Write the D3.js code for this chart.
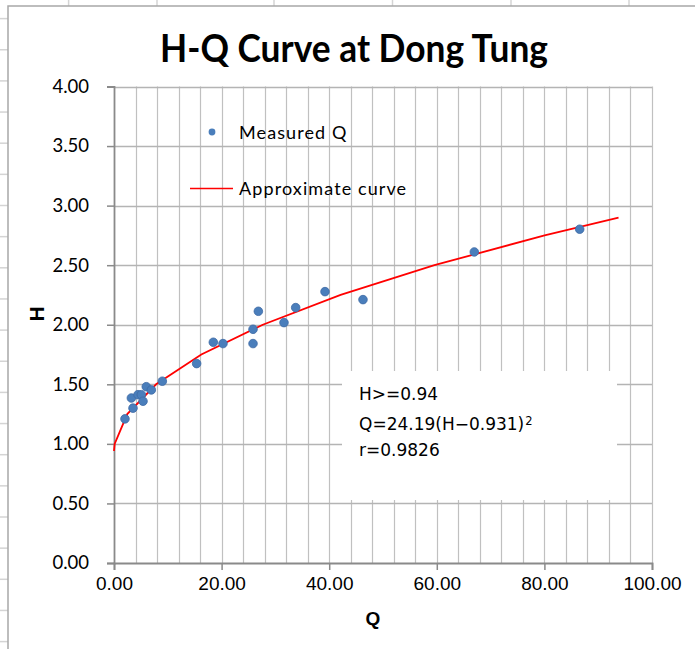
<!DOCTYPE html>
<html>
<head>
<meta charset="utf-8">
<script src="https://cdn.jsdelivr.net/npm/d3@7"></script>
<style>
  html, body { margin: 0; padding: 0; background: #fff; }
  svg { display: block; }
</style>
</head>
<body>
<svg id="chart" width="695" height="649"></svg>
<script>
// ---------------- data ----------------
const chartTitle = "H-Q Curve at Dong Tung";
const xAxisTitle = "Q";
const yAxisTitle = "H";

// Measured discharge Q and stage H
const measuredQ = [2.04, 3.53, 3.23, 4.46, 5.08, 5.39, 6.00, 6.94, 8.98, 15.36, 18.46, 20.26, 25.84, 25.84, 26.83, 31.60, 33.77, 39.22, 46.28, 66.97, 86.56];
const measuredH = [1.21, 1.30, 1.385, 1.413, 1.413, 1.358, 1.48, 1.453, 1.526, 1.674, 1.853, 1.842, 1.962, 1.842, 2.113, 2.018, 2.144, 2.278, 2.211, 2.611, 2.802];

// Approximate curve vertices (Q = 24.19 (H - 0.931)^2)
const curveQ = [0.00, 0.12, 2.46, 7.83, 16.23, 27.65, 42.12, 59.56, 80.04, 93.78];
const curveH = [0.94, 1.00, 1.25, 1.50, 1.75, 2.00, 2.25, 2.50, 2.75, 2.90];

const xTickValues = [0, 20, 40, 60, 80, 100];
const xGridValues = [4, 8, 12, 16, 20, 24, 28, 32, 36, 40, 44, 48, 52, 56, 60, 64, 68, 72, 76, 80, 84, 88, 92, 96, 100];
const yTickValues = [0, 0.5, 1.0, 1.5, 2.0, 2.5, 3.0, 3.5, 4.0];

const legendLabels = ["Measured Q", "Approximate curve"];
const noteLines = ["H>=0.94", "Q=24.19(H\u22120.931)", "r=0.9826"];
const noteSup = "2";

// ---------------- drawing ----------------
const svg = d3.select("#chart");
const W = 695, H = 649;

// spreadsheet cell lines outside the chart object (decoration)
const cellColsX = [68.6, 157, 274, 392.5, 511, 629];
const deco = svg.append("g");
cellColsX.forEach(x => deco.append("line").attr("x1", x).attr("x2", x).attr("y1", 0).attr("y2", 6)
  .attr("stroke", "#d4d4d4").attr("stroke-width", 1.5));
d3.range(0, 21).forEach(k => {
  const y = 18.6 + 31.15 * k;
  deco.append("line").attr("x1", 0).attr("x2", 8).attr("y1", y).attr("y2", y)
    .attr("stroke", "#d4d4d4").attr("stroke-width", 1.5);
});

// chart area
svg.append("rect").attr("x", 8).attr("y", 6).attr("width", W).attr("height", H)
  .attr("fill", "#fff").attr("stroke", "#a8a8a8").attr("stroke-width", 1.5);

const x = d3.scaleLinear().domain([0, 100]).range([114, 652]);
const y = d3.scaleLinear().domain([0, 4]).range([563, 86.5]);

// gridlines
const grid = svg.append("g");
grid.selectAll(".vg").data(xGridValues).join("line")
  .attr("x1", d => Math.round(x(d)) + 0.5).attr("x2", d => Math.round(x(d)) + 0.5)
  .attr("y1", y(4)).attr("y2", y(0))
  .attr("stroke", "#c0c0c0").attr("stroke-width", 1.2);
grid.selectAll(".hg").data(yTickValues.filter(d => d > 0)).join("line")
  .attr("x1", x(0)).attr("x2", x(100))
  .attr("y1", d => Math.round(y(d)) + 0.5).attr("y2", d => Math.round(y(d)) + 0.5)
  .attr("stroke", "#b4b4b4").attr("stroke-width", 1.5);

// annotation box (white, covers grid)
svg.append("rect").attr("x", 342).attr("y", 371).attr("width", 275).attr("height", 129)
  .attr("fill", "#fff");

// axes
const yAxis = d3.axisLeft(y).tickValues(yTickValues).tickFormat(d3.format(".2f")).tickSize(7).tickPadding(18);
const gy = svg.append("g").attr("transform", `translate(${x(0)},0)`).call(yAxis);
gy.select(".domain").attr("stroke", "#8a8a8a").attr("stroke-width", 1.8);
gy.selectAll(".tick line").attr("stroke", "#8a8a8a").attr("stroke-width", 1.5);
gy.selectAll(".tick text").attr("font-family", "Lato, 'Open Sans', sans-serif")
  .attr("font-size", 18.5).attr("fill", "#000");

const xAxis = d3.axisBottom(x).tickValues(xTickValues).tickFormat(d3.format(".2f")).tickSize(7).tickPadding(7);
const gx = svg.append("g").attr("transform", `translate(0,${y(0)})`).call(xAxis);
gx.select(".domain").attr("stroke", "#8a8a8a").attr("stroke-width", 1.8);
gx.selectAll(".tick line").attr("stroke", "#8a8a8a").attr("stroke-width", 1.5);
gx.selectAll(".tick text").attr("font-family", "'Liberation Sans', Arial, sans-serif")
  .attr("font-size", 19).attr("fill", "#000");

// curve
const curveData = curveQ.map((q, i) => [q, curveH[i]]);
svg.append("path").datum(curveData)
  .attr("d", d3.line().x(d => x(d[0])).y(d => y(d[1])))
  .attr("fill", "none").attr("stroke", "#ff0000").attr("stroke-width", 1.8);

// points
const pts = measuredQ.map((q, i) => [q, measuredH[i]]);
svg.append("g").selectAll("circle").data(pts).join("circle")
  .attr("cx", d => x(d[0])).attr("cy", d => y(d[1])).attr("r", 4.3)
  .attr("fill", "#4a7ebb").attr("stroke", "#3d6aa5").attr("stroke-width", 0.8);

// legend
const lg = svg.append("g");
lg.append("circle").attr("cx", 212).attr("cy", 132).attr("r", 3.4).attr("fill", "#4a7ebb");
lg.append("text").attr("x", 239).attr("y", 139).text(legendLabels[0]);
lg.append("line").attr("x1", 190).attr("x2", 233).attr("y1", 188.5).attr("y2", 188.5)
  .attr("stroke", "#ff0000").attr("stroke-width", 1.5);
lg.append("text").attr("x", 239).attr("y", 195).text(legendLabels[1]);
lg.selectAll("text").attr("font-family", "Lato, 'Open Sans', sans-serif").attr("font-size", 18)
  .attr("letter-spacing", 1.1).attr("fill", "#000");

// note text
const nt = svg.append("g").attr("font-family", "'DejaVu Sans', sans-serif").attr("font-size", 17).attr("fill", "#000");
nt.append("text").attr("x", 359).attr("y", 400).text(noteLines[0]);
const q2 = nt.append("text").attr("x", 359).attr("y", 430).text(noteLines[1]);
nt.append("text").attr("x", 359).attr("y", 456).text(noteLines[2]);
const qw = q2.node().getComputedTextLength();
nt.append("text").attr("x", 359 + qw + 1).attr("y", 425).attr("font-size", 11.5).text(noteSup);

// title
svg.append("text").attr("x", 354).attr("y", 62).attr("text-anchor", "middle")
  .attr("font-family", "Lato, 'Open Sans', sans-serif").attr("font-weight", "bold").attr("font-size", 38)
  .attr("textLength", 388).attr("lengthAdjust", "spacingAndGlyphs")
  .attr("fill", "#000").text(chartTitle);

// axis titles
svg.append("text").attr("x", 373).attr("y", 625).attr("text-anchor", "middle")
  .attr("font-family", "'Liberation Sans', Arial, sans-serif").attr("font-weight", "bold").attr("font-size", 19)
  .text(xAxisTitle);
svg.append("text").attr("transform", "translate(44,314) rotate(-90)").attr("text-anchor", "middle")
  .attr("font-family", "'Liberation Sans', Arial, sans-serif").attr("font-weight", "bold").attr("font-size", 21)
  .text(yAxisTitle);
</script>
</body>
</html>
